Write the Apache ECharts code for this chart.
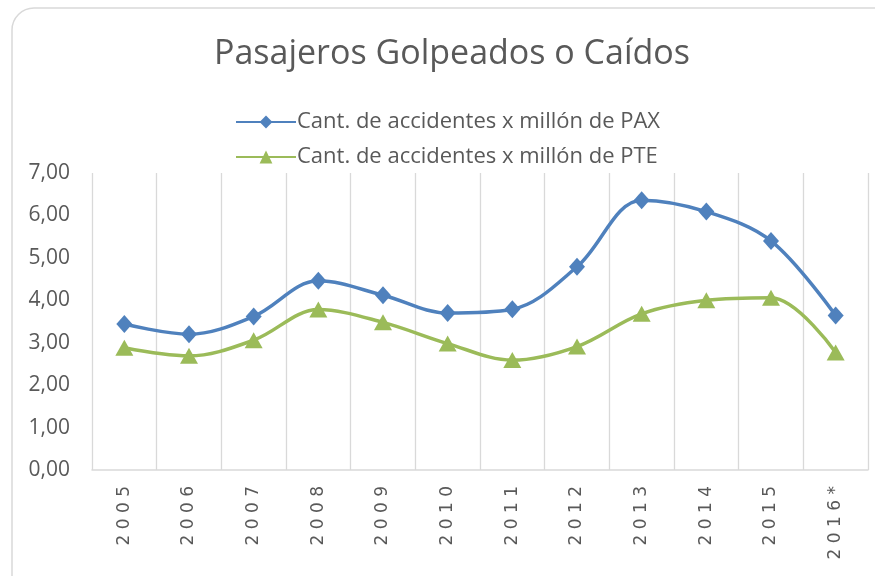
<!DOCTYPE html>
<html><head><meta charset="utf-8">
<script src="https://cdn.jsdelivr.net/npm/echarts@6/dist/echarts.min.js"></script>
<style>html,body{margin:0;padding:0;background:#fff}#c{width:875px;height:576px}</style>
</head><body><div id="c"></div>
<script>
const categories = ["2005","2006","2007","2008","2009","2010","2011","2012","2013","2014","2015","2016*"];
const paxValues = [3.44, 3.20, 3.62, 4.46, 4.12, 3.70, 3.79, 4.79, 6.36, 6.09, 5.40, 3.64];
const pteValues = [2.88, 2.69, 3.06, 3.78, 3.48, 2.98, 2.59, 2.91, 3.68, 4.00, 4.06, 2.77];
const yTicks = [0,1,2,3,4,5,6,7];
const title = "Pasajeros Golpeados o Caídos";
const seriesNames = ["Cant. de accidentes x millón de PAX","Cant. de accidentes x millón de PTE"];

const chart = echarts.init(document.getElementById('c'));
chart.setOption({
  animation:false,
  graphic:[{type:'rect',shape:{x:12,y:8,width:900,height:600,r:22},style:{fill:'none',stroke:'#d9d9d9',lineWidth:1.5},silent:true}],
  title:{text:title,left:214,top:37,padding:0,textStyle:{fontFamily:'Open Sans',fontWeight:'normal',fontSize:34,color:'#595959'}},
  legend:{orient:'vertical',left:230,top:106,itemWidth:60,itemHeight:16,itemGap:13,
    textStyle:{fontFamily:'Open Sans',fontSize:22,color:'#595959',padding:[0,0,0,-4]},
    data:seriesNames},
  grid:{left:92,right:7,top:173,bottom:106,containLabel:false},
  xAxis:{type:'category',data:categories,boundaryGap:true,
    axisLine:{lineStyle:{color:'#d9d9d9',width:1.5}},axisTick:{show:false},
    splitLine:{show:true,lineStyle:{color:'#d9d9d9',width:1.3}},
    axisLabel:{rotate:90,margin:16,fontFamily:'DejaVu Sans',fontSize:17,color:'#595959',
      formatter:v=>v.split('').join(' ')}},
  yAxis:{type:'value',min:0,max:7,interval:1,
    axisLine:{show:false},axisTick:{show:false},splitLine:{show:false},
    axisLabel:{margin:22,fontFamily:'Open Sans',fontSize:21,color:'#595959',
      formatter:v=>v.toFixed(2).replace('.',',')}},
  series:[
    {name:seriesNames[0],type:'line',data:paxValues,smooth:0.35,symbol:'diamond',symbolSize:[16,18],
      lineStyle:{color:'#4f81bd',width:3.5},itemStyle:{color:'#4f81bd'}},
    {name:seriesNames[1],type:'line',data:pteValues,smooth:0.35,symbol:'triangle',symbolSize:[18,16],
      lineStyle:{color:'#9bbb59',width:3.5},itemStyle:{color:'#9bbb59'}}
  ]
});
</script></body></html>
